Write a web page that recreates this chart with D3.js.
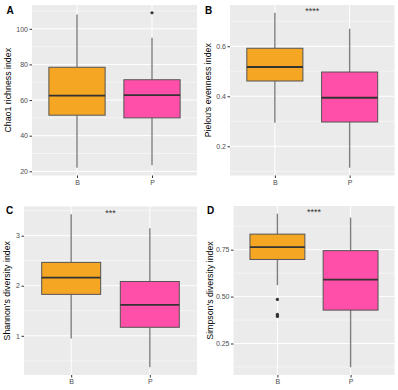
<!DOCTYPE html>
<html lang="en">
<head>
	<meta charset="UTF-8">
	<title>Alpha diversity</title>
	<script src="https://cdn.jsdelivr.net/npm/d3@7"></script>
	<style>
		body { margin: 0; background: #fff; }
		text { font-family: "Liberation Sans", Arial, sans-serif; }
	</style>
</head>
<body>
<svg id="chart" width="398" height="390"></svg>
<script>

// categories
const groups = ['B', 'P'];
const groupColors = ['#F5A623', '#FF4FA8'];

// box stats per group: [lower whisker, Q1, median, Q3, upper whisker]
const chao1Stats = [[22, 51.5, 62.5, 78.4, 108], [23.4, 50, 62.8, 71.4, 95]];
const chao1Outliers = [[], [109]];
const pielouStats = [[0.294, 0.461, 0.517, 0.592, 0.734], [0.114, 0.297, 0.394, 0.497, 0.670]];
const pielouOutliers = [[], []];
const shannonStats = [[0.947, 1.828, 2.164, 2.467, 3.43], [0.37, 1.17, 1.616, 2.085, 3.147]];
const shannonOutliers = [[], []];
const simpsonStats = [[0.561, 0.698, 0.764, 0.833, 0.942], [0.123, 0.428, 0.591, 0.745, 0.921]];
const simpsonOutliers = [[0.485, 0.405, 0.398, 0.394], []];

// tick labels
const chao1Ticks = [20, 40, 60, 80, 100];
const pielouTicks = [0.2, 0.4, 0.6];
const shannonTicks = [1, 2, 3];
const simpsonTicks = [0.25, 0.50, 0.75];

const panelTags = ['A', 'B', 'C', 'D'];
const yTitles = ['Chao1 richness index', "Pielou's evenness index", "Shannon's diversity index", "Simpson's diversity index"];
const signif = ['', '****', '***', '****'];

// panel boxes in pixels [left, top, right, bottom]
const layout = [
	[32, 5, 197, 175.5],
	[230, 5, 394.5, 175.5],
	[24, 206.5, 197, 375],
	[233.5, 206, 394.5, 375]
];

const panels = [
	{stats: chao1Stats, outliers: chao1Outliers, ticks: chao1Ticks, fmt: d3.format('d')},
	{stats: pielouStats, outliers: pielouOutliers, ticks: pielouTicks, fmt: d3.format('.1f')},
	{stats: shannonStats, outliers: shannonOutliers, ticks: shannonTicks, fmt: d3.format('d')},
	{stats: simpsonStats, outliers: simpsonOutliers, ticks: simpsonTicks, fmt: d3.format('.2f')}
];

const svg = d3.select('#chart');

panels.forEach((p, i) => {
	const [x0, y0, x1, y1] = layout[i];
	const g = svg.append('g');

	// data range plus 5% expansion like ggplot
	const all = p.stats.flat().concat(p.outliers.flat());
	const lo = d3.min(all), hi = d3.max(all);
	const pad = (hi - lo) * 0.05;
	const y = d3.scaleLinear().domain([lo - pad, hi + pad]).range([y1, y0]);
	// discrete x: 0.6 units expansion on each side
	const x = d3.scaleLinear().domain([0.4, 2.6]).range([x0, x1]);
	const unit = x(2) - x(1);

	g.append('rect').attr('x', x0).attr('y', y0)
		.attr('width', x1 - x0).attr('height', y1 - y0)
		.attr('fill', '#EBEBEB');

	// minor grid
	const step = p.ticks[1] - p.ticks[0];
	const minors = [];
	for (let k = -2; k <= p.ticks.length + 1; k++) {
		const v = p.ticks[0] + (k - 0.5) * step;
		if (v >= y.domain()[0] && v <= y.domain()[1]) minors.push(v);
	}
	g.selectAll('.minor').data(minors).join('line')
		.attr('x1', x0).attr('x2', x1)
		.attr('y1', d => y(d)).attr('y2', d => y(d))
		.attr('stroke', '#fff').attr('stroke-width', 0.5);

	g.selectAll('.major').data(p.ticks).join('line')
		.attr('x1', x0).attr('x2', x1)
		.attr('y1', d => y(d)).attr('y2', d => y(d))
		.attr('stroke', '#fff').attr('stroke-width', 1);

	g.selectAll('.vgrid').data(groups).join('line')
		.attr('x1', (d, j) => x(j + 1)).attr('x2', (d, j) => x(j + 1))
		.attr('y1', y0).attr('y2', y1)
		.attr('stroke', '#fff').attr('stroke-width', 1);

	// y axis
	const yAxis = g.append('g').attr('transform', `translate(${x0},0)`)
		.call(d3.axisLeft(y).tickValues(p.ticks).tickFormat(p.fmt).tickSizeOuter(0).tickSize(2.5).tickPadding(1.5));
	yAxis.select('.domain').remove();
	yAxis.selectAll('line').attr('stroke', '#333');
	yAxis.selectAll('text').attr('fill', '#4D4D4D').style('font-size', '7px');

	// x axis
	const xAxis = g.append('g').attr('transform', `translate(0,${y1})`)
		.call(d3.axisBottom(x).tickValues([1, 2]).tickFormat(d => groups[d - 1]).tickSizeOuter(0).tickSize(2.5).tickPadding(2));
	xAxis.select('.domain').remove();
	xAxis.selectAll('line').attr('stroke', '#333');
	xAxis.selectAll('text').attr('fill', '#4D4D4D').style('font-size', '7px');

	// boxes
	const bw = unit * 0.75;
	p.stats.forEach((s, j) => {
		const cx = x(j + 1);
		const [wl, q1, med, q3, wh] = s;
		g.append('line').attr('x1', cx).attr('x2', cx)
			.attr('y1', y(q3)).attr('y2', y(wh))
			.attr('stroke', '#7F7F7F').attr('stroke-width', 1.4);
		g.append('line').attr('x1', cx).attr('x2', cx)
			.attr('y1', y(q1)).attr('y2', y(wl))
			.attr('stroke', '#7F7F7F').attr('stroke-width', 1.4);
		g.append('rect').attr('x', cx - bw / 2).attr('y', y(q3))
			.attr('width', bw).attr('height', y(q1) - y(q3))
			.attr('fill', groupColors[j]).attr('stroke', '#555').attr('stroke-width', 1);
		g.append('line').attr('x1', cx - bw / 2).attr('x2', cx + bw / 2)
			.attr('y1', y(med)).attr('y2', y(med))
			.attr('stroke', '#333').attr('stroke-width', 1.8);
		g.selectAll(null).data(p.outliers[j]).join('circle')
			.attr('cx', cx).attr('cy', d => y(d)).attr('r', 1.6)
			.attr('fill', '#333');
	});

	// significance
	if (signif[i]) {
		g.append('text').attr('x', x(1.5)).attr('y', y0 + 9)
			.attr('text-anchor', 'middle').attr('fill', '#333')
			.style('font-size', '9px').text(signif[i]);
	}

	// y title
	const ty = (y0 + y1) / 2;
	const tx = [8, 207.5, 7, 209.5][i];
	g.append('text').attr('transform', `translate(${tx + 3},${ty}) rotate(-90)`)
		.attr('text-anchor', 'middle').attr('fill', '#000')
		.style('font-size', '8.8px').text(yTitles[i]);

	// panel tag
	const tagX = [6.5, 205, 6, 207][i];
	const tagY = [14, 14, 214, 213.5][i];
	g.append('text').attr('x', tagX).attr('y', tagY)
		.style('font-size', '10px').style('font-weight', 'bold')
		.text(panelTags[i]);
});

</script>
</body>
</html>
